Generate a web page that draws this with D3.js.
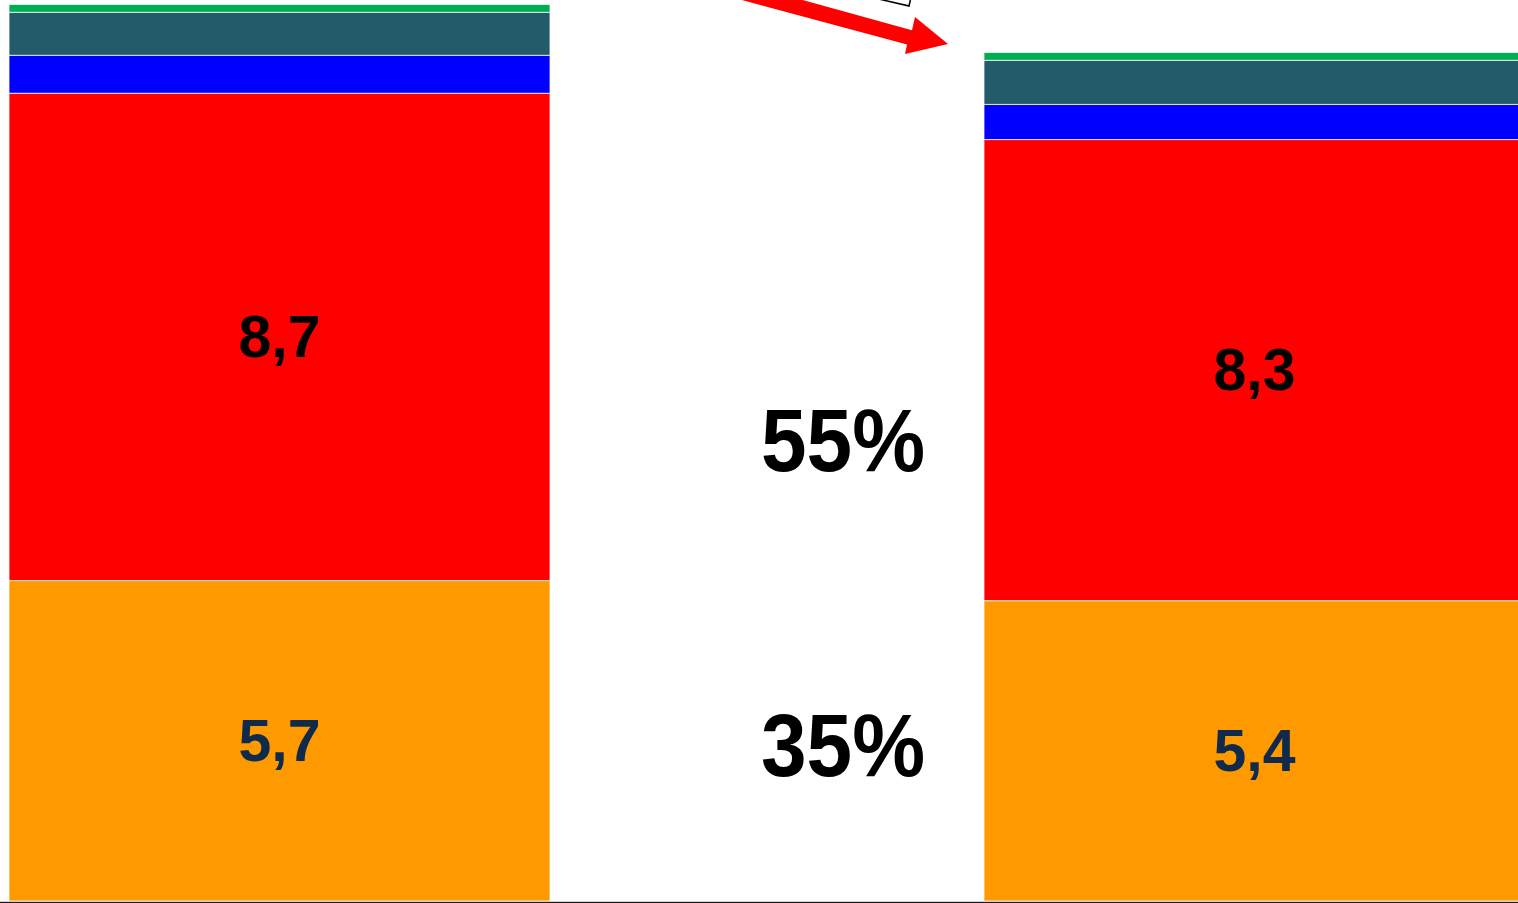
<!DOCTYPE html>
<html>
<head>
<meta charset="utf-8">
<script src="https://cdn.jsdelivr.net/npm/d3@7"></script>
<style>
  html, body { margin: 0; padding: 0; background: #fff; overflow: hidden; }
  svg { display: block; font-family: "Liberation Sans", Arial, sans-serif; }
</style>
</head>
<body>
<svg id="chart" width="1518" height="903"></svg>
<script>
// ---- data ----
const categories = ["Before", "After"];
const seriesNames = ["Orange", "Red", "Blue", "Slate", "Green"];
const orangeValues = [5.74, 5.38];
const redValues    = [8.73, 8.26];
const blueValues   = [0.68, 0.63];
const slateValues  = [0.77, 0.79];
const greenValues  = [0.14, 0.14];
const labeledSeries = ["Orange", "Red"];
const middleLabels = ["55%", "35%"];
const middleLabelValues = [8.26, 2.8];

// ---- styles ----
const colors = {
  Orange: "#ff9900",
  Red: "#ff0000",
  Blue: "#0000ff",
  Slate: "#235b6b",
  Green: "#00ad50"
};
const labelColors = { Orange: "#0f2a4a", Red: "#000000" };

const W = 1518, H = 903;
const baseY = 901;
const svg = d3.select("#chart");

const table = categories.map((c, i) => ({
  cat: c,
  Orange: orangeValues[i],
  Red: redValues[i],
  Blue: blueValues[i],
  Slate: slateValues[i],
  Green: greenValues[i]
}));

const stack = d3.stack().keys(seriesNames)(table);

const x = d3.scaleBand()
  .domain(categories)
  .range([9, 1525])
  .paddingInner(434 / 975)
  .paddingOuter(0);

const y = d3.scaleLinear()
  .domain([0, 16.14])
  .range([baseY, 0]);

// bars
const layers = svg.append("g").selectAll("g.layer")
  .data(stack)
  .join("g")
  .attr("class", "layer")
  .attr("fill", d => colors[d.key]);

layers.selectAll("rect")
  .data(d => d.map(p => ({ key: d.key, p })))
  .join("rect")
  .attr("x", d => x(d.p.data.cat))
  .attr("width", x.bandwidth())
  .attr("y", d => y(d.p[1]))
  .attr("height", d => y(d.p[0]) - y(d.p[1]))
  .attr("stroke", "#ffffff")
  .attr("stroke-opacity", 0.75)
  .attr("stroke-width", 1);

// segment labels
const fmt = v => d3.format(".1f")(v).replace(".", ",");
stack.filter(s => labeledSeries.includes(s.key)).forEach(s => {
  svg.append("g").selectAll("text")
    .data(s)
    .join("text")
    .attr("x", p => x(p.data.cat) + x.bandwidth() / 2)
    .attr("y", p => (y(p[0]) + y(p[1])) / 2)
    .attr("text-anchor", "middle")
    .attr("dominant-baseline", "central")
    .attr("font-size", 59)
    .attr("font-weight", "bold")
    .attr("fill", labelColors[s.key])
    .text(p => fmt(p.data[s.key]));
});

// middle percentage labels
svg.append("g").selectAll("text")
  .data(middleLabels.map((t, i) => ({ t, v: middleLabelValues[i] })))
  .join("text")
  .attr("x", x(categories[1]) - 141)
  .attr("y", d => y(d.v))
  .attr("text-anchor", "middle")
  .attr("dominant-baseline", "central")
  .attr("font-size", 89)
  .attr("font-weight", "bold")
  .attr("fill", "#000")
  .attr("textLength", 164)
  .attr("lengthAdjust", "spacingAndGlyphs")
  .text(d => d.t);

// baseline
svg.append("line")
  .attr("x1", 0).attr("x2", W)
  .attr("y1", baseY + 0.5).attr("y2", baseY + 0.5)
  .attr("stroke", "#cfcfcf").attr("stroke-width", 1);
svg.append("line")
  .attr("x1", 0).attr("x2", W)
  .attr("y1", baseY + 1.5).attr("y2", baseY + 1.5)
  .attr("stroke", "#1a1a1a").attr("stroke-width", 1.2);

// annotation box (cropped at top)
svg.append("g")
  .attr("transform", "translate(909,6) rotate(13)")
  .append("rect")
  .attr("x", -140).attr("y", -40)
  .attr("width", 140).attr("height", 40)
  .attr("fill", "#fff")
  .attr("stroke", "#000")
  .attr("stroke-width", 1.5);

// red arrow
svg.append("polygon")
  .attr("points", [[700, -28.3], [912, 30.2], [915, 17], [948, 44], [905, 54], [907, 44.6], [700, -11.3]].map(p => p.join(",")).join(" "))
  .attr("fill", "#ff0000");
</script>
</body>
</html>
